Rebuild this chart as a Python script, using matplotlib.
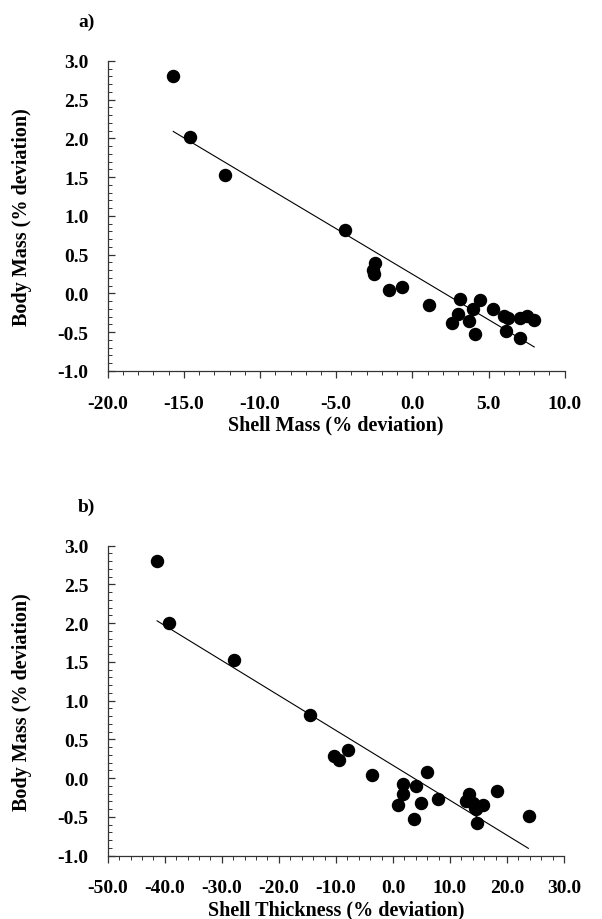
import numpy as np
import matplotlib
matplotlib.use("Agg")
import matplotlib.pyplot as plt
from matplotlib.ticker import MultipleLocator, FormatStrFormatter

plt.rcParams['font.family'] = ['Liberation Serif', 'DejaVu Serif']
plt.rcParams['font.weight'] = 'bold'

# panel a: shell mass vs body mass (% deviation)
mass_x = [-15.74, -14.6, -12.3, -4.41, -2.48, -2.61, -2.54, -1.56, -0.68, 1.07,
          3.16, 2.98, 2.61, 3.97, 3.75, 4.08, 4.47, 5.28, 6.01, 6.27,
          6.18, 7.06, 7.5, 7.98, 7.06]
mass_y = [2.81, 2.02, 1.53, 0.82, 0.39, 0.30, 0.25, 0.045, 0.084, -0.15,
          -0.07, -0.26, -0.38, -0.20, -0.35, -0.52, -0.09, -0.20, -0.29, -0.32,
          -0.49, -0.32, -0.29, -0.34, -0.57]
mass_fit_x = [-15.7, 8.0]
mass_fit_y = [2.09, -0.69]

# panel b: shell thickness vs body mass (% deviation)
thick_x = [-41.35, -39.3, -27.8, -14.6, -7.95, -10.3, -9.42, -3.74, 1.8, 1.8,
           0.82, 3.98, 4.9, 3.74, 6.02, 7.95, 13.33, 12.8, 14.4, 15.85,
           14.8, 18.3, 23.86, 14.1, 14.5]
thick_y = [2.80, 2.0, 1.52, 0.81, 0.37, 0.29, 0.24, 0.04, -0.075, -0.2,
           -0.35, -0.1, -0.32, -0.53, 0.075, -0.27, -0.2, -0.29, -0.38, -0.34,
           -0.58, -0.16, -0.49, -0.32, -0.40]
thick_fit_x = [-41.35, 23.74]
thick_fit_y = [2.03, -0.905]

fig = plt.figure(figsize=(6.02, 9.2), dpi=100)
ax1 = fig.add_axes([0.179, 0.5957, 0.759, 0.337])
ax2 = fig.add_axes([0.179, 0.0688, 0.758, 0.337])


def style_axes(ax, xmin, xmax, xmajor, xminor, xlabel):
    ax.set_xlim(xmin, xmax)
    ax.set_ylim(-1.0, 3.0)
    for side in ('top', 'right'):
        ax.spines[side].set_visible(False)
    for side in ('left', 'bottom'):
        ax.spines[side].set_linewidth(0.9)
        ax.spines[side].set_color('#333333')
    ax.xaxis.set_major_locator(MultipleLocator(xmajor))
    ax.xaxis.set_minor_locator(MultipleLocator(xminor))
    ax.yaxis.set_major_locator(MultipleLocator(0.5))
    ax.yaxis.set_minor_locator(MultipleLocator(0.1))
    ax.xaxis.set_major_formatter(FormatStrFormatter('%.1f'))
    ax.yaxis.set_major_formatter(FormatStrFormatter('%.1f'))
    ax.tick_params(axis='x', which='both', direction='out', labelsize=14,
                   color='#333333', pad=12)
    ax.tick_params(axis='x', which='major', length=5, width=0.9)
    ax.tick_params(axis='x', which='minor', length=3, width=0.7)
    ax.tick_params(axis='y', which='both', direction='in', labelsize=14,
                   color='#333333', pad=14)
    ax.tick_params(axis='y', which='major', length=5, width=0.9)
    ax.tick_params(axis='y', which='minor', length=3, width=0.7)
    for lbl in ax.get_xticklabels() + ax.get_yticklabels():
        lbl.set_fontweight('bold')
    ax.set_xlabel(xlabel, fontsize=14.5, fontweight='bold', labelpad=2)
    ax.set_ylabel('Body Mass (% deviation)', fontsize=14.5, fontweight='bold')
    ax.yaxis.set_label_coords(-0.166, 0.5)


ax1.scatter(mass_x, mass_y, s=75, color='black', zorder=3, clip_on=False)
ax1.plot(mass_fit_x, mass_fit_y, color='black', lw=0.8)
style_axes(ax1, -20, 10, 5, 1, 'Shell Mass (% deviation)')

ax2.scatter(thick_x, thick_y, s=75, color='black', zorder=3, clip_on=False)
ax2.plot(thick_fit_x, thick_fit_y, color='black', lw=0.8)
style_axes(ax2, -50, 30, 10, 2, 'Shell Thickness (% deviation)')

fig.text(0.13, 0.976, 'a)', fontsize=14, fontweight='bold', va='center')
fig.text(0.13, 0.449, 'b)', fontsize=14, fontweight='bold', va='center')

fig.savefig('out.png', dpi=100)
